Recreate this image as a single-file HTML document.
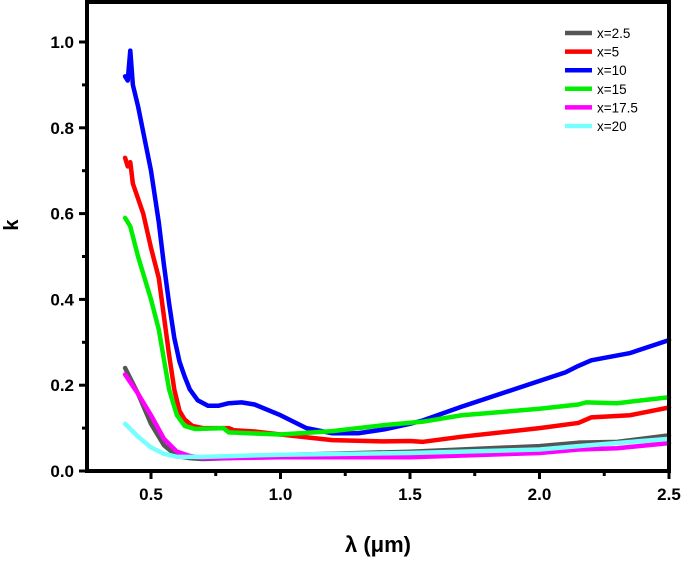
<!DOCTYPE html>
<html><head><meta charset="utf-8"><style>
html,body{margin:0;padding:0;background:#fff}
svg text{font-family:"Liberation Sans",sans-serif;font-weight:bold}
</style></head><body>
<svg id="chart" width="685" height="558" xmlns="http://www.w3.org/2000/svg">
<g id="plot"></g>
</svg>
<script>
const seriesNames=["x=2.5","x=5","x=10","x=15","x=17.5","x=20"];
const seriesColors=["#555555","#ff0000","#0000ff","#00ee00","#ff00ff","#77ffff"];
const xTicks=[0.5,1.0,1.5,2.0,2.5];
const yTicks=[0.0,0.2,0.4,0.6,0.8,1.0];
const sGray=[[0.40,0.24],[0.45,0.18],[0.5,0.11],[0.55,0.06],[0.6,0.035],[0.65,0.03],[0.7,0.028],[0.8,0.03],[1.0,0.037],[1.5,0.045],[2.0,0.058],[2.15,0.066],[2.3,0.068],[2.5,0.083]];
const sRed=[[0.40,0.73],[0.41,0.71],[0.42,0.72],[0.43,0.67],[0.47,0.6],[0.5,0.52],[0.53,0.45],[0.55,0.36],[0.57,0.27],[0.59,0.19],[0.61,0.14],[0.63,0.12],[0.66,0.105],[0.7,0.10],[0.8,0.10],[0.82,0.095],[0.9,0.092],[1.0,0.085],[1.2,0.072],[1.4,0.069],[1.5,0.07],[1.55,0.068],[1.7,0.08],[2.0,0.10],[2.15,0.112],[2.2,0.125],[2.35,0.13],[2.5,0.148]];
const sBlue=[[0.40,0.92],[0.41,0.91],[0.42,0.98],[0.43,0.9],[0.45,0.85],[0.5,0.70],[0.53,0.58],[0.55,0.48],[0.57,0.39],[0.59,0.31],[0.61,0.255],[0.63,0.22],[0.65,0.19],[0.68,0.165],[0.72,0.152],[0.76,0.152],[0.8,0.158],[0.85,0.16],[0.9,0.155],[1.0,0.13],[1.1,0.10],[1.2,0.088],[1.3,0.088],[1.4,0.097],[1.5,0.11],[1.55,0.118],[1.7,0.15],[1.9,0.19],[2.1,0.23],[2.15,0.245],[2.2,0.258],[2.35,0.275],[2.5,0.305]];
const sGreen=[[0.40,0.59],[0.42,0.57],[0.45,0.50],[0.5,0.40],[0.53,0.33],[0.55,0.26],[0.57,0.19],[0.6,0.13],[0.63,0.105],[0.67,0.098],[0.78,0.1],[0.8,0.09],[1.0,0.085],[1.2,0.093],[1.4,0.107],[1.55,0.115],[1.7,0.13],[2.0,0.145],[2.15,0.155],[2.18,0.16],[2.3,0.158],[2.5,0.172]];
const sMagenta=[[0.40,0.225],[0.45,0.18],[0.5,0.13],[0.55,0.075],[0.6,0.045],[0.65,0.035],[0.7,0.03],[0.8,0.03],[1.0,0.032],[1.5,0.032],[2.0,0.042],[2.15,0.05],[2.3,0.053],[2.5,0.065]];
const sCyan=[[0.40,0.11],[0.45,0.08],[0.5,0.055],[0.55,0.04],[0.6,0.033],[0.7,0.033],[1.0,0.038],[1.5,0.042],[2.0,0.05],[2.15,0.058],[2.5,0.075]];
const allSeries=[sGray,sRed,sBlue,sGreen,sMagenta,sCyan];

const L=87,R=669,T=2,B=471;
const xs=v=>151+(v-0.5)*259;
const ys=v=>471-v*429;
const NS="http://www.w3.org/2000/svg";
const g=document.getElementById('plot');
function mk(tag,attrs,parent){const e=document.createElementNS(NS,tag);for(const k in attrs)e.setAttribute(k,attrs[k]);(parent||g).appendChild(e);return e;}

allSeries.forEach((s,i)=>{
  const p=mk('polyline',{points:s.map(d=>xs(d[0])+','+ys(d[1])).join(' '),fill:'none',stroke:seriesColors[i],'stroke-width':4.5,'stroke-linejoin':'round','stroke-linecap':'round'});
  
  
});
const frame=mk('rect',{x:L,y:T,width:R-L,height:B-T,fill:'none',stroke:'#000','stroke-width':4});


yTicks.forEach(v=>{
  mk('line',{x1:L-8,x2:L,y1:ys(v),y2:ys(v),stroke:'#000','stroke-width':3});
  if(v<1)mk('line',{x1:L-5,x2:L,y1:ys(v+0.1),y2:ys(v+0.1),stroke:'#000','stroke-width':3});
  const t=mk('text',{x:L-13,y:ys(v)+6,'text-anchor':'end','font-size':17});
  t.textContent=v.toFixed(1);
  
  
});
xTicks.forEach(v=>{
  mk('line',{x1:xs(v),x2:xs(v),y1:B,y2:B+8,stroke:'#000','stroke-width':3});
  if(v<2.5)mk('line',{x1:xs(v+0.25),x2:xs(v+0.25),y1:B,y2:B+5,stroke:'#000','stroke-width':3});
  const t=mk('text',{x:xs(v),y:B+29,'text-anchor':'middle','font-size':17});
  t.textContent=v.toFixed(1);
  
  
});
const xt=mk('text',{x:378,y:552,'text-anchor':'middle','font-size':22});
xt.textContent='λ (μm)';


const yt=mk('text',{x:0,y:0,'text-anchor':'middle','font-size':20,transform:'translate(18,225) rotate(-90)'});
yt.textContent='k';


seriesNames.forEach((n,i)=>{
  const y=33+i*18.6;
  const lg=mk('g',{});
  
  
  mk('line',{x1:565,x2:592,y1:y,y2:y,stroke:seriesColors[i],'stroke-width':4.5},lg);
  const t=mk('text',{x:597,y:y+5,'font-size':13.5},lg);
  t.setAttribute('style','font-weight:normal');
  t.textContent=n;
});
</script>
</body></html>
